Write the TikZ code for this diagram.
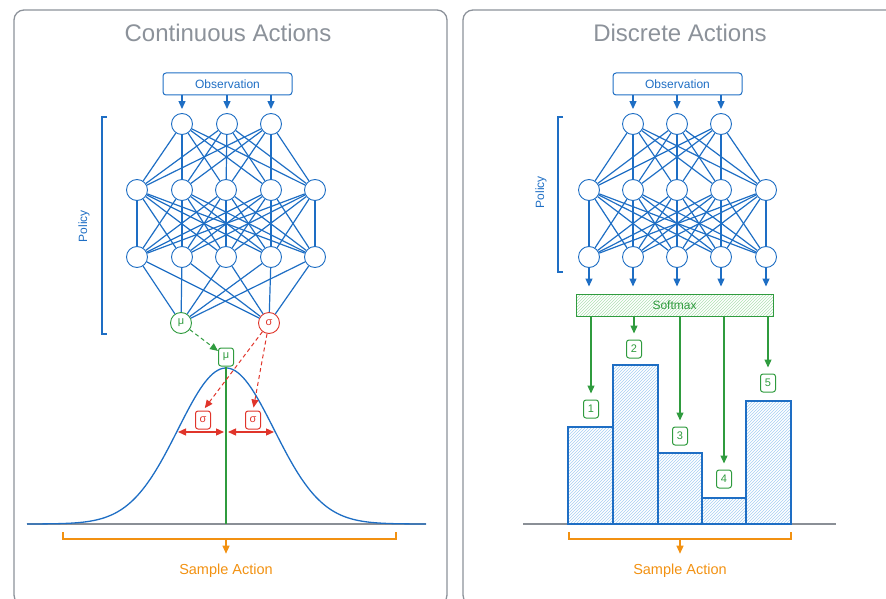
\documentclass[tikz,border=0pt]{standalone}
\usepackage{fontspec}
\setmainfont{Liberation Sans}
\usetikzlibrary{arrows.meta,patterns}

\definecolor{netblue}{HTML}{1E6EC4}
\definecolor{hatchblue}{HTML}{A6CEF2}
\definecolor{actgreen}{HTML}{2F9B3E}
\definecolor{hatchgreen}{HTML}{B0E0B3}
\definecolor{sigred}{HTML}{E0352B}
\definecolor{sampleorange}{HTML}{F29111}
\definecolor{framegray}{HTML}{8C929A}
\definecolor{axisgray}{HTML}{8A8F96}

\tikzset{
  panel/.style={draw=framegray, line width=1.3pt, rounded corners=10pt},
  paneltitle/.style={text=framegray, font=\fontsize{24}{28}\selectfont},
  obsbox/.style={draw=netblue, line width=1pt, rounded corners=3pt, minimum width=129pt,
    minimum height=22pt, inner sep=0pt, text=netblue, font=\fontsize{12}{14}\selectfont},
  softbox/.style={draw=actgreen, line width=1pt, pattern=north east lines, pattern color=hatchgreen,
    minimum width=197pt, minimum height=22pt, inner sep=0pt, text=actgreen, font=\fontsize{12}{14}\selectfont},
  neuron/.style={circle, draw=netblue, fill=white, line width=0.9pt, minimum size=21pt, inner sep=0pt},
  outmu/.style={neuron, draw=actgreen, text=actgreen, font=\fontsize{11}{13}\selectfont},
  outsig/.style={neuron, draw=sigred, text=sigred, font=\fontsize{11}{13}\selectfont},
  tag/.style={rounded corners=2.5pt, line width=1pt, minimum width=15pt, minimum height=18pt,
    inner sep=0pt, font=\fontsize{11}{13}\selectfont},
  gtag/.style={tag, draw=actgreen, text=actgreen},
  rtag/.style={tag, draw=sigred, text=sigred},
  edge/.style={netblue, line width=1.2pt},
  feed/.style={netblue, line width=1.2pt, -{Triangle[length=8pt,width=7pt]}, shorten >=4pt},
  garrow/.style={actgreen, line width=1.2pt, -{Triangle[length=8pt,width=7pt]}, shorten >=6pt},
  dashgreen/.style={actgreen, line width=1pt, dash pattern=on 4pt off 3pt, -{Triangle[length=8pt,width=7pt]}},
  dashred/.style={sigred, line width=1pt, dash pattern=on 4pt off 3pt, -{Triangle[length=8pt,width=7pt]}, shorten >=3pt},
  spread/.style={sigred, line width=1.3pt, {Triangle[length=8pt,width=7pt]}-{Triangle[length=8pt,width=7pt]}},
  policy/.style={rotate=90, text=netblue, font=\fontsize{12}{14}\selectfont},
  brace/.style={netblue, line width=1.2pt},
  bracket/.style={sampleorange, line width=1.2pt},
  oarrow/.style={sampleorange, line width=1.2pt, -{Triangle[length=8pt,width=7pt]}, shorten >=7pt},
  sample/.style={text=sampleorange, font=\fontsize{14.5}{17}\selectfont},
  bar/.style={draw=netblue, line width=1.2pt, pattern=north east lines, pattern color=hatchblue},
  ground/.style={axisgray, line width=1.3pt}
}

\begin{document}
\begin{tikzpicture}[x=1pt, y=-1pt]
  \useasboundingbox (0,0) rectangle (886,599);

  \draw[panel] (14,10) rectangle (447,605);
  \draw[panel] (463,10) rectangle (896,605);
  \node[paneltitle] (ltitle) at (228,33) {Continuous Actions};
  \node[paneltitle] (rtitle) at (680,33) {Discrete Actions};

  % continuous side: policy network
  \node[obsbox] (lobs) at (227.5,84) {Observation};
  \foreach \i/\x in {1/182,2/227,3/271}
    \node[neuron] (la\i) at (\x,124) {};
  \foreach \i/\x in {1/137,2/182,3/226,4/271,5/315} {
    \node[neuron] (lb\i) at (\x,190) {};
    \node[neuron] (lc\i) at (\x,257) {};
  }
  \node[outmu] (mu) at (181,323) {μ};
  \node[outsig] (sig) at (269,323) {σ};

  \foreach \i in {1,2,3} {
    \draw[feed] (lobs.south -| la\i) -- (la\i);
    \foreach \j in {1,...,5}
      \draw[edge] (la\i) -- (lb\j);
  }
  \foreach \i in {1,...,5} {
    \foreach \j in {1,...,5}
      \draw[edge] (lb\i) -- (lc\j);
    \draw[edge] (lc\i) -- (mu);
    \draw[edge] (lc\i) -- (sig);
  }

  \draw[brace] (107,117) -- (102,117) -- (102,334) -- (107,334);
  \node[policy] (lpol) at (84,226) {Policy};

  % gaussian
  \draw[ground] (27,524) -- (426,524);
  \draw[netblue, line width=1.3pt] plot[domain=27:426, samples=160]
    (\x, {524-156*exp(-0.5*((\x-226)/48)^2)});

  \node[gtag] (mubox) at (226,357) {μ};
  \node[rtag] (sl) at (203,420) {σ};
  \node[rtag] (sr) at (253,420) {σ};
  \coordinate (gbot) at (226,524);
  \draw[actgreen, line width=1.3pt] (mubox.south) -- (gbot);
  \draw[dashgreen] (mu) -- (mubox);
  \draw[dashred] (sig) -- (sl.north);
  \draw[dashred] (sig) -- (sr.north);

  \coordinate (sdl) at (178,432);
  \coordinate (sdm) at (224,432);
  \coordinate (sdn) at (228,432);
  \coordinate (sdr) at (274,432);
  \draw[spread] (sdl) -- (sdm);
  \draw[spread] (sdn) -- (sdr);

  \draw[bracket] (63,532) -- (63,539) -- (396,539) -- (396,532);
  \coordinate (lbr) at (226,539);
  \node[sample] (lsamp) at (226,571) {Sample Action};
  \draw[oarrow] (lbr) -- (lsamp.north);

  % discrete side: policy network
  \node[obsbox] (robs) at (677.5,84) {Observation};
  \foreach \i/\x in {1/633,2/677,3/721}
    \node[neuron] (ra\i) at (\x,124) {};
  \foreach \i/\x in {1/589,2/633,3/677,4/721,5/766} {
    \node[neuron] (rb\i) at (\x,190) {};
    \node[neuron] (rc\i) at (\x,257) {};
  }
  \node[softbox] (soft) at (674.5,305) {Softmax};

  \foreach \i in {1,2,3} {
    \draw[feed] (robs.south -| ra\i) -- (ra\i);
    \foreach \j in {1,...,5}
      \draw[edge] (ra\i) -- (rb\j);
  }
  \foreach \i in {1,...,5} {
    \foreach \j in {1,...,5}
      \draw[edge] (rb\i) -- (rc\j);
    \draw[feed, shorten >=7pt] (rc\i) -- (rc\i |- soft.north);
  }

  \draw[brace] (563,117) -- (558,117) -- (558,272) -- (563,272);
  \node[policy] (rpol) at (541,192) {Policy};

  % action probabilities
  \draw[ground] (523,524) -- (836,524);
  \foreach \l/\r/\t in {568/613/427, 613/658/365, 658/702/453, 702/746/498, 746/791/401}
    \draw[bar] (\l,524) rectangle (\r,\t);

  \node[gtag] (k1) at (591,409) {1};
  \node[gtag] (k2) at (634,349) {2};
  \node[gtag] (k3) at (680,436) {3};
  \node[gtag] (k4) at (724,479) {4};
  \node[gtag] (k5) at (768,383) {5};
  \foreach \k in {1,...,5}
    \draw[garrow] (soft.south -| k\k) -- (k\k);

  \draw[bracket] (569,532) -- (569,539) -- (791,539) -- (791,532);
  \coordinate (rbr) at (680,539);
  \node[sample] (rsamp) at (680,571) {Sample Action};
  \draw[oarrow] (rbr) -- (rsamp.north);
\end{tikzpicture}
\end{document}
